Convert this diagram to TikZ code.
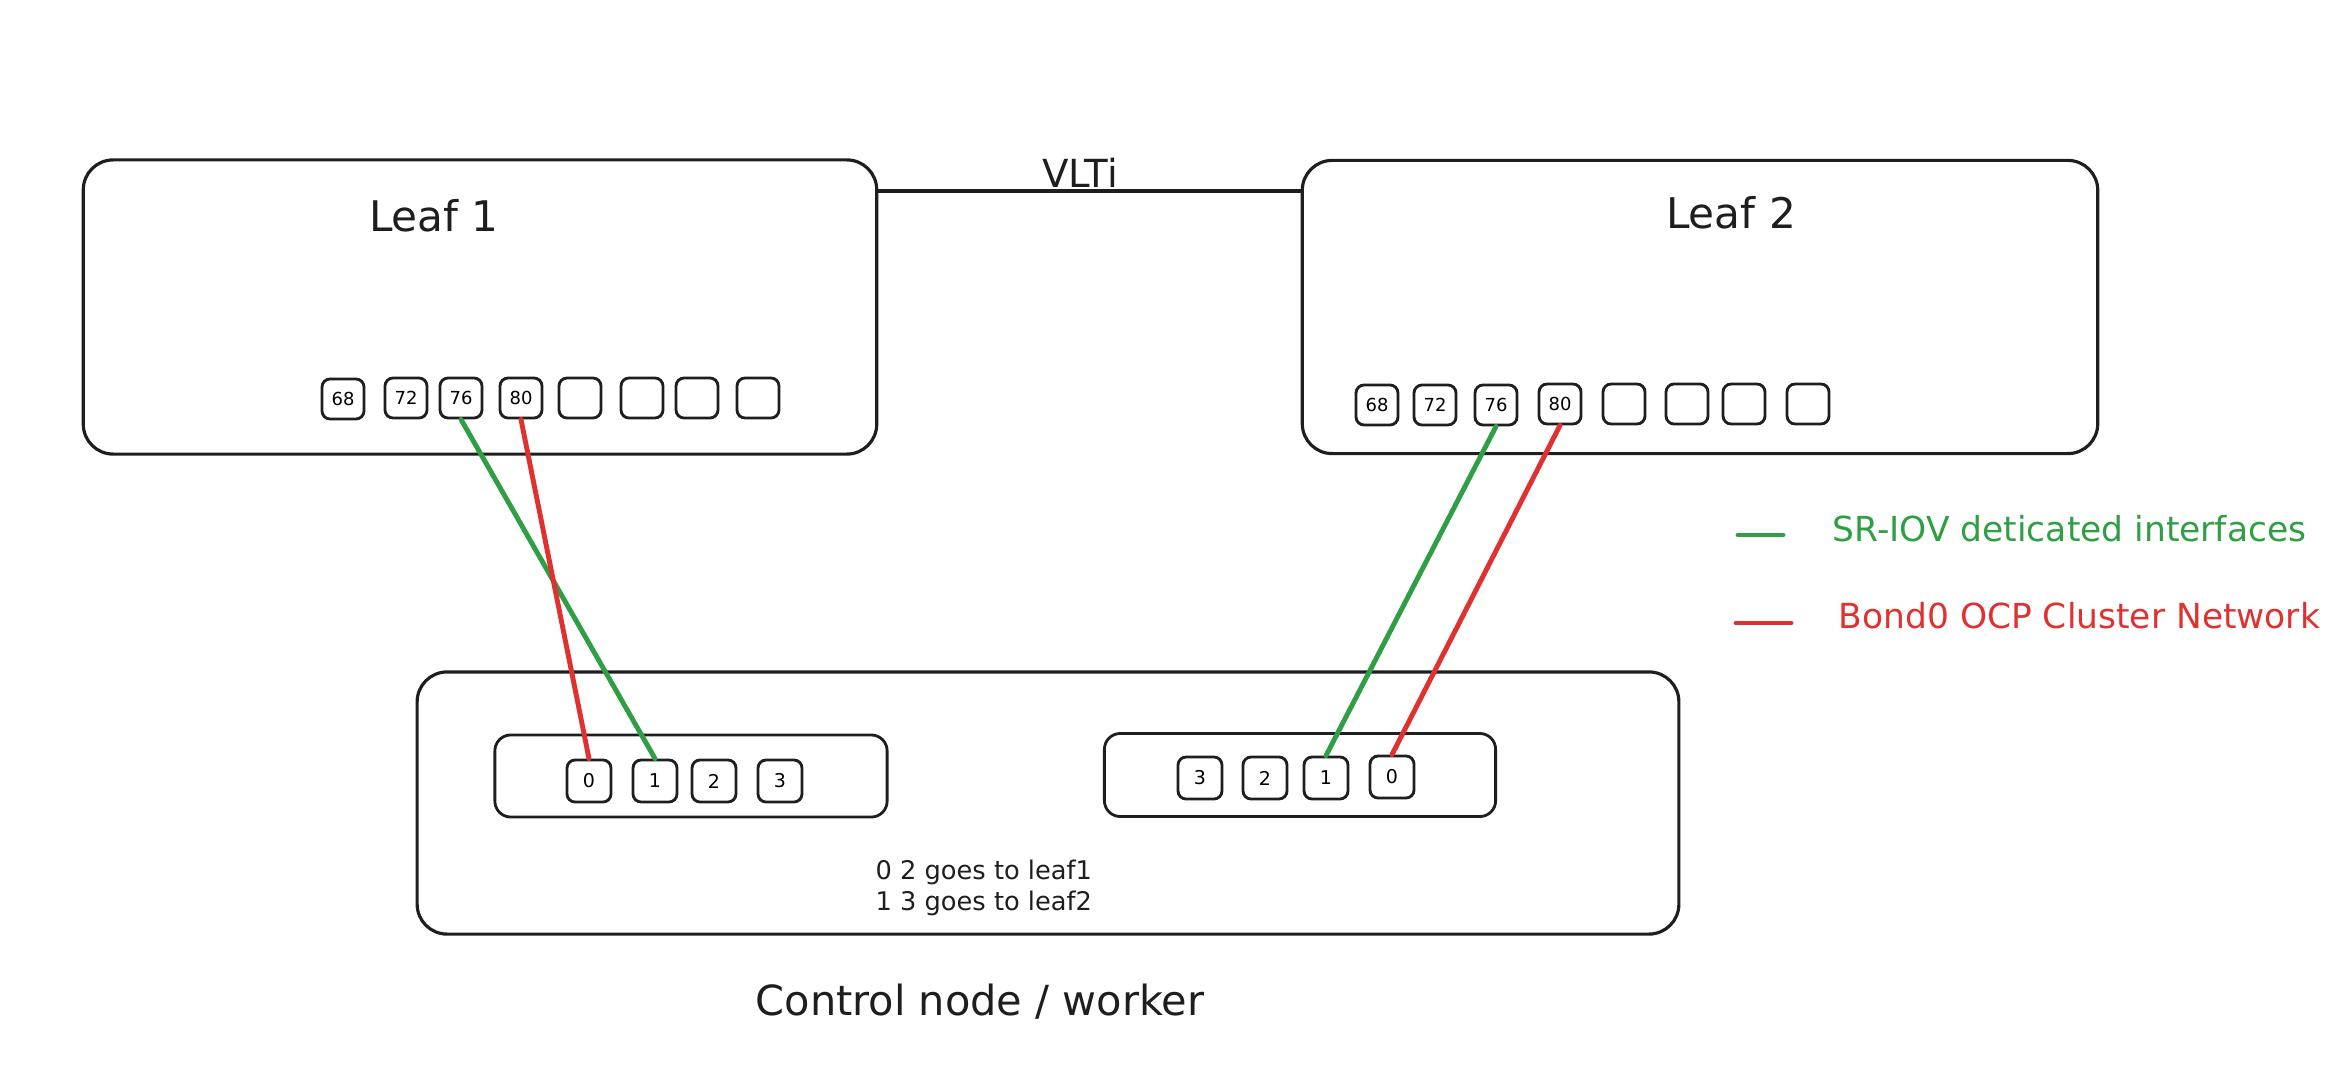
\documentclass[tikz,border=0pt]{standalone}
\usepackage{fontspec}
\setmainfont{DejaVu Sans}
\definecolor{inkblack}{HTML}{1E1E1E}
\definecolor{sriovgreen}{HTML}{2F9E44}
\definecolor{bondred}{HTML}{E03131}

\begin{document}
\begin{tikzpicture}[x=0.01cm, y=-0.01cm,
  switchbox/.style={rectangle, rounded corners=8.5pt, draw=inkblack, line width=0.9pt, inner sep=0pt},
  nicbox/.style={rectangle, rounded corners=4.5pt, draw=inkblack, line width=0.8pt, inner sep=0pt},
  port/.style={rectangle, rounded corners=2.3pt, draw=inkblack, line width=0.8pt, minimum width=0.42cm, minimum height=0.40cm, inner sep=0pt, font=\fontsize{5.1}{6}\selectfont},
  nicport/.style={port, minimum width=0.44cm, minimum height=0.42cm, font=\fontsize{5.4}{6}\selectfont},
  title/.style={text=inkblack, font=\fontsize{12}{14}\selectfont},
  greenwire/.style={draw=sriovgreen, line width=1.4pt, line cap=round},
  redwire/.style={draw=bondred, line width=1.4pt, line cap=round}]
\useasboundingbox (0,0) rectangle (2340,1088);

% leaf switches
\node[switchbox, minimum width=7.93cm, minimum height=2.94cm] (leaf1) at (480,307) {};
\node[switchbox, minimum width=7.95cm, minimum height=2.93cm] (leaf2) at (1700,307) {};
\node[title] (leaf1lbl) at (434,216) {Leaf 1};
\node[title] (leaf2lbl) at (1731,213) {Leaf 2};

% VLTi link
\node[title, font=\fontsize{11}{13}\selectfont] (vltilbl) at (1080,173) {VLTi};
\draw[inkblack, line width=1.2pt] (leaf1.east |- 0,191) -- (leaf2.west |- 0,191);

% leaf 1 ports
\node[port] (l1p68) at (343,399) {68};
\node[port] (l1p72) at (406,398) {72};
\node[port] (l1p76) at (461,398) {76};
\node[port] (l1p80) at (521,398) {80};
\node[port] (l1p84) at (580,398) {};
\node[port] (l1p88) at (642,398) {};
\node[port] (l1p92) at (697,398) {};
\node[port] (l1p96) at (758,398) {};

% leaf 2 ports
\node[port] (l2p68) at (1377,405) {68};
\node[port] (l2p72) at (1435,405) {72};
\node[port] (l2p76) at (1496,405) {76};
\node[port] (l2p80) at (1560,404) {80};
\node[port] (l2p84) at (1624,404) {};
\node[port] (l2p88) at (1687,404) {};
\node[port] (l2p92) at (1744,404) {};
\node[port] (l2p96) at (1808,404) {};

% control node / worker
\node[switchbox, minimum width=12.61cm, minimum height=2.62cm] (ctrl) at (1048,803) {};
\node[nicbox, minimum width=3.92cm, minimum height=0.82cm] (nicA) at (691,776) {};
\node[nicbox, minimum width=3.91cm, minimum height=0.83cm] (nicB) at (1300,775) {};
\node[title, font=\fontsize{11.8}{14}\selectfont] (ctrllbl) at (980,1002) {Control node / worker};

\node[nicport] (a0) at (589,781) {0};
\node[nicport] (a1) at (655,781) {1};
\node[nicport] (a2) at (714,781) {2};
\node[nicport] (a3) at (780,781) {3};

\node[nicport] (b3) at (1200,778) {3};
\node[nicport] (b2) at (1265,778) {2};
\node[nicport] (b1) at (1326,778) {1};
\node[nicport] (b0) at (1392,777) {0};

\node[text=inkblack, font=\fontsize{7.3}{8.6}\selectfont, align=left, anchor=west, inner sep=0pt] (note) at (875,888) {0 2 goes to leaf1\\1 3 goes to leaf2};

% cabling
\draw[greenwire] (l1p76.south) -- (a1.north);
\draw[redwire] (l1p80.south) -- (a0.north);
\draw[greenwire] (l2p76.south) -- (b1.north);
\draw[redwire] (l2p80.south) -- (b0.north);

% legend
\draw[greenwire] (1738,535) -- (1783,535);
\draw[redwire] (1736,623) -- (1791,623);
\node[text=sriovgreen, font=\fontsize{9.8}{11}\selectfont, anchor=west, inner sep=0pt] (lgsriov) at (1832,529) {SR-IOV deticated interfaces};
\node[text=bondred, font=\fontsize{9.8}{11}\selectfont, anchor=west, inner sep=0pt] (lgbond) at (1838,616) {Bond0 OCP Cluster Network};
\end{tikzpicture}
\end{document}
